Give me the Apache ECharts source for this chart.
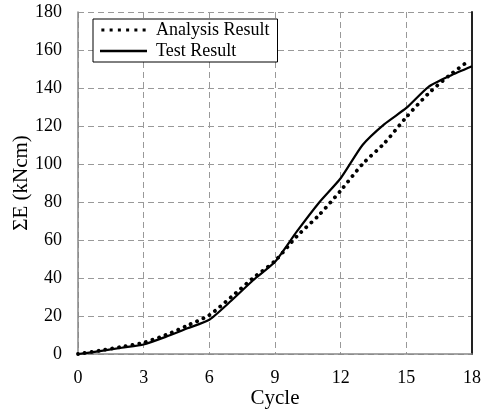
<!DOCTYPE html>
<html>
<head>
<meta charset="utf-8">
<script src="https://cdn.jsdelivr.net/npm/echarts@6/dist/echarts.min.js"></script>
<style>
  html, body { margin: 0; padding: 0; background: #fff; }
  #chart { width: 484px; height: 415px; }
</style>
</head>
<body>
<div id="chart"></div>
<script>
const seriesNames = ["Analysis Result", "Test Result"];

const analysisCycle = [0, 1, 2, 3, 4, 5, 6, 7, 8, 9, 10, 11, 12, 13, 14, 15, 16, 17, 17.7];
const analysisE = [0, 1.8, 3.8, 6, 10, 15, 20.5, 30, 40, 49, 62, 73, 86, 100, 111, 124.7, 137, 147, 153];

const testCycle = [0, 1, 2, 3, 4, 5, 6, 7, 8, 9, 10, 11, 12, 13, 14, 15, 16, 17, 18];
const testE = [0, 1.5, 3.3, 5, 9, 13.5, 18, 28, 38.8, 48.5, 64.5, 79.5, 92.5, 110, 121, 129.5, 140.5, 146.5, 151.5];

const xTicks = { min: 0, max: 18, interval: 3 };
const yTicks = { min: 0, max: 180, interval: 20 };

const FONT = "Liberation Serif";

// legend icons: a row of dots and a plain bar
const dotIcon = "path://" + [0, 1, 2, 3, 4, 5]
  .map(i => "M" + (i * 8.8) + ",0 h3.2 v3.2 h-3.2 Z").join(" ");
const barIcon = "path://M0,0 h47 v2.6 h-47 Z";

const chart = echarts.init(document.getElementById("chart"));

const option = {
  animation: false,
  backgroundColor: "#fff",
  textStyle: { fontFamily: FONT, color: "#000" },
  grid: { left: 78, right: 12, top: 12, bottom: 61, outerBoundsMode: "none" },
  legend: {
    left: 93,
    top: 19,
    orient: "vertical",
    itemWidth: 47,
    itemHeight: 3,
    itemGap: 3,
    padding: [2, 8, 2, 7],
    borderColor: "#000",
    borderWidth: 1,
    backgroundColor: "#fff",
    textStyle: { fontFamily: FONT, fontSize: 18, color: "#000", padding: [0, 0, 0, 4] },
    data: [
      { name: seriesNames[0], icon: dotIcon, itemStyle: { color: "#000" } },
      { name: seriesNames[1], icon: barIcon, itemStyle: { color: "#000" } }
    ]
  },
  xAxis: {
    type: "value",
    min: xTicks.min,
    max: xTicks.max,
    interval: xTicks.interval,
    name: "Cycle",
    nameLocation: "middle",
    nameGap: 34,
    nameMoveOverlap: false,
    nameTextStyle: { fontFamily: FONT, fontSize: 21, color: "#000" },
    axisLine: { lineStyle: { color: "#888", width: 1.5 } },
    axisTick: { show: false },
    axisLabel: { fontFamily: FONT, fontSize: 18, color: "#000", margin: 15 },
    splitLine: { lineStyle: { color: "#999", type: [6, 4], width: 1 } }
  },
  yAxis: [
    {
      type: "value",
      min: yTicks.min,
      max: yTicks.max,
      interval: yTicks.interval,
      name: "ΣE (kNcm)",
      nameLocation: "middle",
      nameGap: 46,
      nameMoveOverlap: false,
      nameTextStyle: { fontFamily: FONT, fontSize: 21, color: "#000" },
      axisLine: { show: true, lineStyle: { color: "#888", width: 1.5 } },
      axisTick: { show: false },
      axisLabel: { fontFamily: FONT, fontSize: 18, color: "#000", margin: 16 },
      splitLine: { lineStyle: { color: "#999", type: [6, 4], width: 1 } }
    },
    {
      type: "value",
      position: "right",
      min: yTicks.min,
      max: yTicks.max,
      interval: yTicks.interval,
      axisLine: { show: true, lineStyle: { color: "#222", width: 2 } },
      axisTick: { show: false },
      axisLabel: { show: false },
      splitLine: { show: false }
    }
  ],
  series: [
    {
      name: seriesNames[0],
      type: "line",
      symbol: "none",
      smooth: 0.25,
      data: analysisCycle.map((c, i) => [c, analysisE[i]]),
      lineStyle: { color: "#000", width: 3.8, type: [0.1, 6.8], cap: "round" },
      itemStyle: { color: "#000" },
      z: 3
    },
    {
      name: seriesNames[1],
      type: "line",
      symbol: "none",
      smooth: 0.2,
      data: testCycle.map((c, i) => [c, testE[i]]),
      lineStyle: { color: "#000", width: 2.2 },
      itemStyle: { color: "#000" },
      z: 4
    }
  ]
};

chart.setOption(option);
</script>
</body>
</html>
